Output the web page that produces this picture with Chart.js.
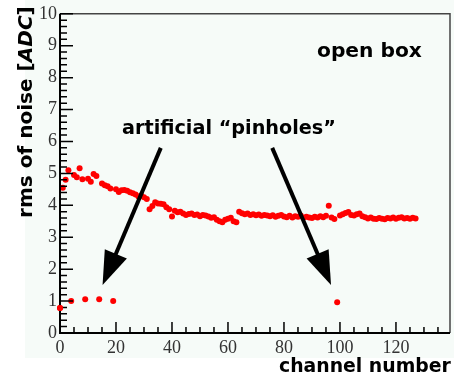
<!DOCTYPE html>
<html lang="en">
<head>
<meta charset="utf-8"/>
<title>rms of noise per channel</title>
<script src="https://cdn.jsdelivr.net/npm/chart.js"></script>
<style>
  html, body { margin: 0; padding: 0; background: #fff; }
  canvas { display: block; }
</style>
</head>
<body>
<canvas id="noise-chart" width="454" height="378"></canvas>
<script>
  // rms noise per channel (index = channel number), null where a pinhole was made
  const rmsByChannel = [
    null, 4.55, 4.80, 5.10, null, 4.95, 4.88, 5.16, 4.82, null,
    4.83, 4.74, 4.98, 4.92, null, 4.68, 4.63, 4.60, 4.53, null,
    4.50, 4.42, 4.47, 4.48, 4.46, 4.41, 4.38, 4.34, 4.28, 4.31,
    4.25, 4.20, 3.88, 3.98, 4.10, 4.06, 4.05, 4.03, 3.94, 3.88,
    3.65, 3.83, 3.78, 3.80, 3.74, 3.70, 3.73, 3.74, 3.70, 3.71,
    3.66, 3.70, 3.68, 3.65, 3.61, 3.63, 3.55, 3.50, 3.47, 3.55,
    3.58, 3.61, 3.50, 3.47, 3.80, 3.75, 3.72, 3.74, 3.70, 3.72,
    3.69, 3.71, 3.67, 3.70, 3.68, 3.66, 3.69, 3.64, 3.67, 3.70,
    3.65, 3.63, 3.67, 3.62, 3.66, 3.64, 3.68, 3.61, 3.64, 3.62,
    3.60, 3.64, 3.62, 3.66, 3.63, 3.67, 3.99, 3.62, 3.57, null,
    3.68, 3.72, 3.76, 3.79, 3.70, 3.68, 3.72, 3.74, 3.66, 3.63,
    3.59, 3.62, 3.58, 3.57, 3.60, 3.58, 3.56, 3.60, 3.59, 3.62,
    3.58, 3.61, 3.63, 3.59, 3.60, 3.58, 3.61, 3.59
  ];

  // the artificial "pinholes"
  const pinholeChannels = [0, 4, 9, 14, 19, 99];
  const pinholeRms = [0.78, 1.00, 1.06, 1.06, 1.00, 0.96];

  const xMin = 0, xMax = 139.3, xStep = 20, xMinorStep = 5;
  const yMin = 0, yMax = 10, yStep = 1, yMinorDiv = 5;

  // arrows in data units: [fromX, fromY, toX, toY]
  const arrows = [
    [36.0, 5.8, 15.2, 1.5],
    [75.8, 5.8, 96.8, 1.5]
  ];

  const mainPoints = rmsByChannel
    .map((v, i) => ({ x: i, y: v }))
    .filter(p => p.y !== null);
  const pinholePoints = pinholeChannels.map((c, i) => ({ x: c, y: pinholeRms[i] }));

  const TITLE_FONT = '"DejaVu Sans", sans-serif';
  const TICK_FONT = '"Liberation Serif", serif';

  function fontFor(size, italic) {
    return (italic ? 'italic ' : '') + 'bold ' + size + 'px ' + TITLE_FONT;
  }

  // draw text pieces so that the whole string takes targetWidth pixels
  function drawFitted(ctx, parts, x, y, targetWidth) {
    let w = 0;
    parts.forEach(p => { ctx.font = fontFor(20, p.italic); w += ctx.measureText(p.text).width; });
    const size = 20 * targetWidth / w;
    let cx = x;
    parts.forEach(p => {
      ctx.font = fontFor(size, p.italic);
      ctx.fillText(p.text, cx, y);
      cx += ctx.measureText(p.text).width;
    });
  }

  function drawArrow(ctx, x1, y1, x2, y2) {
    const headLen = 34, headHalf = 12;
    const dx = x2 - x1, dy = y2 - y1;
    const len = Math.hypot(dx, dy);
    const ux = dx / len, uy = dy / len;
    const bx = x2 - ux * headLen, by = y2 - uy * headLen;
    ctx.strokeStyle = '#000';
    ctx.lineWidth = 4;
    ctx.beginPath();
    ctx.moveTo(x1, y1);
    ctx.lineTo(bx + ux * 2, by + uy * 2);
    ctx.stroke();
    ctx.fillStyle = '#000';
    ctx.beginPath();
    ctx.moveTo(x2, y2);
    ctx.lineTo(bx - uy * headHalf, by + ux * headHalf);
    ctx.lineTo(bx + uy * headHalf, by - ux * headHalf);
    ctx.closePath();
    ctx.fill();
  }

  const rootStyle = {
    id: 'rootStyle',
    beforeDraw(chart) {
      const ctx = chart.ctx;
      ctx.save();
      ctx.fillStyle = '#ffffff';
      ctx.fillRect(0, 0, chart.width, chart.height);
      ctx.fillStyle = '#f6fbf8';
      ctx.fillRect(25, 0, chart.width - 25, 358);
      ctx.restore();
    },
    afterDraw(chart) {
      const ctx = chart.ctx;
      const a = chart.chartArea;
      const xs = chart.scales.x, ys = chart.scales.y;
      ctx.save();

      // frame
      ctx.strokeStyle = '#444';
      ctx.lineWidth = 1.5;
      ctx.beginPath();
      ctx.moveTo(a.left, a.top);
      ctx.lineTo(a.right, a.top);
      ctx.lineTo(a.right, a.bottom);
      ctx.stroke();

      // axes
      ctx.strokeStyle = '#000';
      ctx.lineWidth = 2;
      ctx.beginPath();
      ctx.moveTo(a.left, a.top);
      ctx.lineTo(a.left, a.bottom);
      ctx.lineTo(a.right, a.bottom);
      ctx.stroke();

      // inward ticks
      ctx.lineWidth = 1.5;
      ctx.beginPath();
      for (let i = 0; i <= (yMax - yMin) * yMinorDiv; i++) {
        const py = ys.getPixelForValue(yMin + i / yMinorDiv);
        const l = i % yMinorDiv === 0 ? 13 : 7;
        ctx.moveTo(a.left, py);
        ctx.lineTo(a.left + l, py);
      }
      for (let v = xMin; v <= xMax; v += xMinorStep) {
        const px = xs.getPixelForValue(v);
        const l = v % xStep === 0 ? 11 : 6;
        ctx.moveTo(px, a.bottom);
        ctx.lineTo(px, a.bottom - l);
      }
      ctx.stroke();

      // pinhole at channel 0 sits on the axis, draw it again on top
      ctx.fillStyle = '#ff0000';
      ctx.beginPath();
      ctx.arc(xs.getPixelForValue(pinholeChannels[0]), ys.getPixelForValue(pinholeRms[0]), 3, 0, Math.PI * 2);
      ctx.fill();

      // arrows
      arrows.forEach(([fx, fy, tx, ty]) => {
        drawArrow(ctx, xs.getPixelForValue(fx), ys.getPixelForValue(fy),
                  xs.getPixelForValue(tx), ys.getPixelForValue(ty));
      });

      // texts
      ctx.fillStyle = '#000';
      ctx.textBaseline = 'alphabetic';
      ctx.textAlign = 'left';
      drawFitted(ctx, [{ text: 'open box' }], 317, 57, 105);
      drawFitted(ctx, [{ text: 'artificial \u201cpinholes\u201d' }], 122, 134, 214);
      drawFitted(ctx, [{ text: 'channel number' }], 279, 372, 172);

      ctx.save();
      ctx.translate(32, 218);
      ctx.rotate(-Math.PI / 2);
      drawFitted(ctx, [
        { text: 'rms of noise [' },
        { text: 'ADC', italic: true },
        { text: ']' }
      ], 0, 0, 212);
      ctx.restore();

      ctx.restore();
    }
  };

  new Chart(document.getElementById('noise-chart'), {
    type: 'scatter',
    data: {
      datasets: [
        {
          label: 'channels',
          data: mainPoints,
          backgroundColor: '#ff0000',
          borderWidth: 0,
          pointRadius: 3,
          pointStyle: 'circle',
          clip: false
        },
        {
          label: 'pinholes',
          data: pinholePoints,
          backgroundColor: '#ff0000',
          borderWidth: 0,
          pointRadius: 3,
          pointStyle: 'circle',
          clip: false
        }
      ]
    },
    options: {
      responsive: false,
      animation: false,
      layout: { padding: { left: 0, top: 12, right: 4, bottom: 0 } },
      plugins: { legend: { display: false }, tooltip: { enabled: false } },
      scales: {
        x: {
          type: 'linear',
          min: xMin,
          max: xMax,
          grid: { display: false, drawTicks: false },
          border: { display: false },
          ticks: {
            stepSize: xStep,
            includeBounds: false,
            autoSkip: false,
            maxRotation: 0,
            padding: 4,
            color: '#333',
            font: { family: TICK_FONT, size: 18 }
          },
          afterFit(scale) { scale.height = 45; }
        },
        y: {
          type: 'linear',
          min: yMin,
          max: yMax,
          grid: { display: false, drawTicks: false },
          border: { display: false },
          ticks: {
            stepSize: yStep,
            autoSkip: false,
            padding: 3,
            color: '#333',
            font: { family: TICK_FONT, size: 18 }
          },
          afterFit(scale) { scale.width = 60; }
        }
      }
    },
    plugins: [rootStyle]
  });
</script>
</body>
</html>
